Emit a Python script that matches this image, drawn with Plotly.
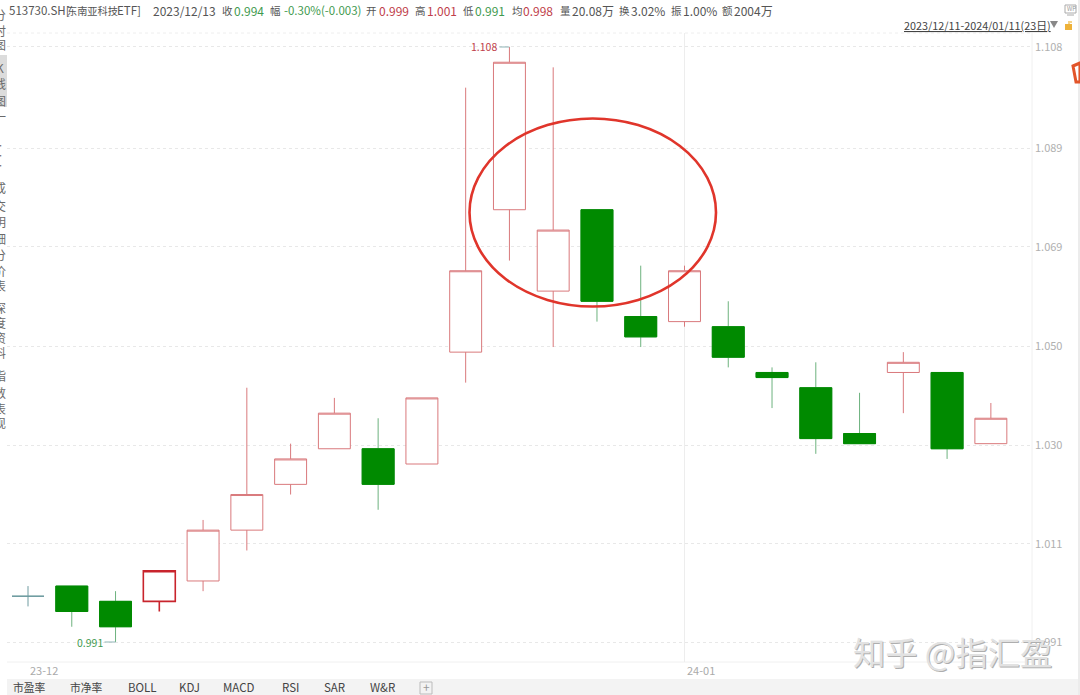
import plotly.graph_objects as go

dates = ["2023-12-11","2023-12-12","2023-12-13","2023-12-14","2023-12-15","2023-12-18","2023-12-19","2023-12-20",
         "2023-12-21","2023-12-22","2023-12-25","2023-12-26","2023-12-27","2023-12-28","2023-12-29","2024-01-02",
         "2024-01-03","2024-01-04","2024-01-05","2024-01-08","2024-01-09","2024-01-10","2024-01-11"]
opens  = [1.000,1.002,0.999,0.999,1.003,1.013,1.022,1.029,1.029,1.026,1.048,1.076,1.060,1.076,1.055,1.054,1.053,1.044,1.041,1.032,1.044,1.044,1.030]
highs  = [1.002,1.002,1.001,1.005,1.015,1.041,1.030,1.039,1.035,1.039,1.100,1.108,1.104,1.076,1.065,1.065,1.058,1.045,1.046,1.040,1.048,1.044,1.038]
lows   = [0.998,0.994,0.991,0.997,1.001,1.009,1.020,1.029,1.017,1.026,1.042,1.066,1.049,1.054,1.049,1.053,1.045,1.037,1.028,1.030,1.036,1.027,1.030]
closes = [1.000,0.997,0.994,1.005,1.013,1.020,1.027,1.036,1.022,1.039,1.064,1.105,1.072,1.058,1.051,1.064,1.047,1.043,1.031,1.030,1.046,1.029,1.035]

accent_index = 3
flat_index = 0

y_ticks = [1.108,1.0881,1.0687,1.0492,1.0297,1.0103,0.991]
y_labels = ["1.108","1.089","1.069","1.050","1.030","1.011","0.991"]
month_dates = ["2023-12-11","2024-01-02"]
month_labels = ["23-12","24-01"]
tab_labels = ["市盈率","市净率","BOLL","KDJ","MACD","RSI","SAR","W&R"]
tab_lefts = [13,70,128,179,223,282,324,370]

GREEN = "#008a00"; RED_LINE = "#d9797c"; GREY = "#555555"; CJK = "Noto Sans CJK SC"
FIG_W, FIG_H = 1080, 695
L, R, T, B = 7, 1032, 33, 662
def px(p): return (p - L) / (R - L)
def py(p): return (B - p) / (B - T)

def subset(idx):
    return dict(x=[dates[i] for i in idx], open=[opens[i] for i in idx], high=[highs[i] for i in idx],
                low=[lows[i] for i in idx], close=[closes[i] for i in idx])

rest = [i for i in range(len(dates)) if i not in (accent_index, flat_index)]
falling = [i for i in rest if closes[i] < opens[i]]
common = dict(whiskerwidth=0, showlegend=False, hoverinfo="skip")
fig = go.Figure()
fig.add_trace(go.Candlestick(**subset(rest), **common,
    increasing=dict(line=dict(color=RED_LINE, width=1), fillcolor="white"),
    decreasing=dict(line=dict(color="#6db27e", width=1), fillcolor=GREEN)))
# solid body edge over the paler wicks of the falling days
fig.add_trace(go.Candlestick(x=[dates[i] for i in falling], open=[opens[i] for i in falling],
    close=[closes[i] for i in falling], high=[opens[i] for i in falling], low=[closes[i] for i in falling], **common,
    increasing=dict(line=dict(color=GREEN, width=1), fillcolor=GREEN),
    decreasing=dict(line=dict(color=GREEN, width=1), fillcolor=GREEN)))
fig.add_trace(go.Candlestick(**subset([accent_index]), **common,
    increasing=dict(line=dict(color="#c8242c", width=1.6), fillcolor="white"),
    decreasing=dict(line=dict(color="#c8242c", width=1.6), fillcolor="white")))
fig.add_trace(go.Candlestick(**subset([flat_index]), **common,
    increasing=dict(line=dict(color="#6f9ba0", width=1), fillcolor="white"),
    decreasing=dict(line=dict(color="#6f9ba0", width=1), fillcolor="white")))

ann = []
def text(x, y, s, color=GREY, size=12, anchor="left", yanchor="middle"):
    ann.append(dict(xref="paper", yref="paper", x=px(x - 2 if anchor == "left" else x), y=py(y), text=s, showarrow=False,
                    xanchor=anchor, yanchor=yanchor, font=dict(family=CJK, size=size, color=color)))

HG = "#3f9a4f"; HR = "#c0404a"
header = [(8.6,"513730.SH[",GREY,11.5),(67,"东南亚科技",GREY,10.2),(117,"ETF]",GREY,11.5),(152.5,"2023/12/13",GREY,12),
          (222,"收",GREY,10.5),(234,"0.994",HG,12),(270,"幅",GREY,10.5),(284,"-0.30%(-0.003)",HG,11.5),
          (366,"开",GREY,10.5),(379,"0.999",HR,12),(415,"高",GREY,10.5),(427,"1.001",HR,12),
          (463,"低",GREY,10.5),(475,"0.991",HG,12),(512,"均",GREY,10.5),(523,"0.998",HR,12),
          (560,"量",GREY,10.5),(572,"20.08万",GREY,12),(619,"换",GREY,10.5),(631,"3.02%",GREY,12),
          (671,"振",GREY,10.5),(683,"1.00%",GREY,12),(722,"额",GREY,10.5),(734,"2004万",GREY,12)]
for x, s, c, z in header:
    text(x, 10, s, c, z)
text(904, 25, "<u>2023/12/11-2024/01/11(23日)</u>", "#444444", 10.8)

for d, lab in zip(month_dates, month_labels):
    ann.append(dict(xref="x", yref="paper", x=d, xshift=16, y=py(670), text=lab, showarrow=False, xanchor="center",
                    yanchor="middle", font=dict(family=CJK, size=11, color="#aaaaaa")))

ann.append(dict(xref="x", yref="y", x=dates[11], y=max(highs), text="1.108", showarrow=True, ax=-10, ay=0, axref="pixel",
                arrowhead=0, arrowwidth=1, arrowcolor="#8fb4b6", xanchor="right", yanchor="middle",
                font=dict(family=CJK, size=10.5, color="#c0404a")))
ann.append(dict(xref="x", yref="y", x=dates[2], y=min(lows), text="0.991", showarrow=True, ax=-11, ay=0, axref="pixel",
                arrowhead=0, arrowwidth=1, arrowcolor="#8fb4b6", xanchor="right", yanchor="middle",
                font=dict(family=CJK, size=10.5, color="#3f9a4f")))

for s, x in zip(tab_labels, tab_lefts):
    text(x, 696.5, s, "#444444", 11.5 if s.isascii() else 10.8, "left", "bottom")
text(426, 696.5, "+", "#999999", 12, "center", "bottom")

side = [(14,"分",12),(30,"时",12),(44,"图",12),(67,"K",12),(84,"线",12),(100,"图",12),(117,"一",12),
        (145,"·",7),(155,"·",7),(165,"·",7),
        (188,"成",12),(205,"交",12),(222,"明",12),(238,"细",12),(255,"分",12),(270,"价",12),(285,"表",12),
        (307,"深",12),(322,"度",12),(337,"资",12),(352,"料",12),(375,"指",12),(392,"数",12),(408,"表",12),(422,"现",12)]
for y, s, z in side:
    text(0, y, s, "#6a6a6a", z, "center")

# watermark with emboss
text(854, 652, "知乎 @指汇盈", "#aeaeae", 32.3)
text(853, 651, "知乎 @指汇盈", "#e2e2e2", 32.3)

text(1067, 9, "WP", "#999999", 6)

shapes = []
def rect(x0, y0, x1, y1, fill=None, line=None, lw=1, layer="below"):
    shapes.append(dict(type="rect", xref="paper", yref="paper", x0=px(x0), x1=px(x1), y0=py(y0), y1=py(y1),
                       fillcolor=fill or "rgba(0,0,0,0)", line=dict(color=line or "rgba(0,0,0,0)", width=lw if line else 0), layer=layer))
def hline(y, x0, x1, color, dash="solid"):
    shapes.append(dict(type="line", xref="paper", yref="paper", x0=px(x0), x1=px(x1), y0=py(y), y1=py(y),
                       line=dict(color=color, width=1, dash=dash), layer="below"))
def path(pts, fill=None, line=None, lw=1):
    d = "M " + " L ".join(f"{px(a):.5f},{py(b):.5f}" for a, b in pts) + " Z"
    shapes.append(dict(type="path", xref="paper", yref="paper", path=d, fillcolor=fill or "rgba(0,0,0,0)",
                       line=dict(color=line or "rgba(0,0,0,0)", width=lw if line else 0), layer="above"))

rect(7, 679, 1078, 695, fill="#f3f3f3")
rect(1078, 0, 1080, 695, fill="#ececec")
rect(0, 55, 7, 107, fill="#dcdcdc")
hline(33, 7, 1032, "#eeeeee", "dot")
hline(662, 7, 1032, "#f0f0f0")
shapes.append(dict(type="line", xref="paper", yref="paper", x0=1, x1=1, y0=0, y1=py(33), line=dict(color="#f0f0f0", width=1), layer="below"))
rect(420, 682, 432, 694, line="#bbbbbb")

# ellipse highlight
shapes.append(dict(type="circle", xref="paper", yref="paper", x0=px(469.5), x1=px(716), y0=py(118.5), y1=py(306.5),
                   line=dict(color="#e0352b", width=2.6), layer="above"))
# small icons
path([(1050,21),(1058,21),(1054,28)], fill="#888888")
rect(1065, 24, 1072, 30, fill="#eeb23a")
path([(1068,24),(1068,21),(1072,21),(1072,23),(1070,23),(1070,24)], fill="#f5d48a")
rect(1065, 5, 1076, 13, line="#aaaaaa")
hline(15, 1067, 1074, "#aaaaaa")
path([(1073,66),(1080,63),(1080,82),(1076,82)], line="#e2552a", lw=3)

fig.update_layout(
    width=FIG_W, height=FIG_H, margin=dict(l=L, r=FIG_W-R, t=T, b=FIG_H-B, pad=0),
    paper_bgcolor="white", plot_bgcolor="white", showlegend=False, hovermode=False,
    annotations=ann, shapes=shapes, boxmode="overlay", boxgap=0.27, boxgroupgap=0,
    xaxis=dict(type="category", categoryorder="array", categoryarray=dates, range=[-0.48, 22.94],
               rangeslider=dict(visible=False), tickvals=[month_dates[1]], ticktext=[""], showgrid=True,
               gridcolor="#ededed", gridwidth=1, zeroline=False, showline=False, ticks="", fixedrange=True),
    yaxis=dict(side="right", range=[0.98707, 1.11075], tickvals=y_ticks, ticktext=y_labels, showgrid=True,
               gridcolor="#e8e8e8", griddash="dot", gridwidth=1, zeroline=False, showline=False, ticks="",
               tickfont=dict(family=CJK, size=11, color="#b0b0b0"), fixedrange=True, ticklabelstandoff=2),
)
fig.write_html("out.html", config=dict(displayModeBar=False),
               post_script="document.body.style.margin='0';document.body.style.overflow='hidden';")
